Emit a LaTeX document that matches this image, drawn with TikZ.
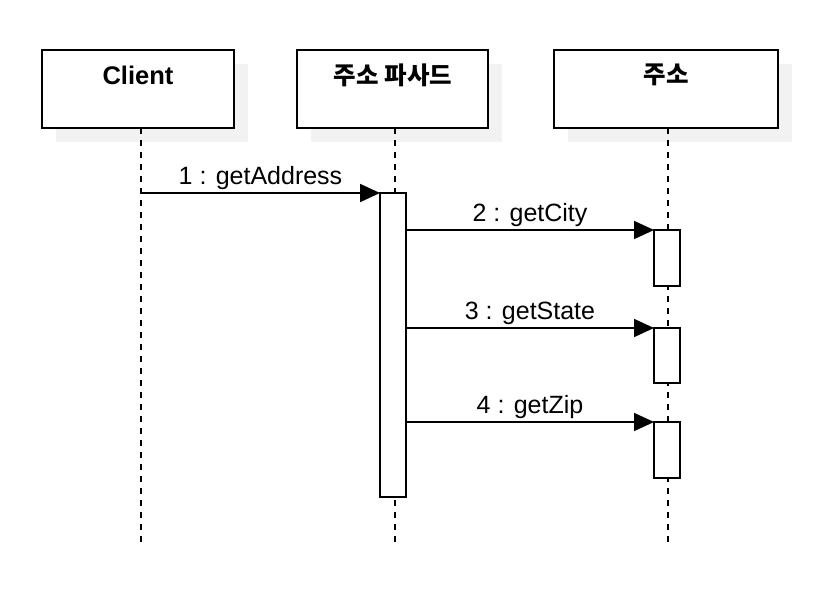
\documentclass[tikz,border=0pt]{standalone}
\usepackage{fontspec}
\setmainfont{Liberation Sans}
\newfontfamily\krfont{Noto Sans CJK KR}
\usetikzlibrary{arrows.meta}
\begin{document}
\begin{tikzpicture}[x=1pt,y=-1pt,
  objbox/.style={draw=black,line width=1.8pt,fill=white},
  shadowbox/.style={fill=black!5,draw=none},
  lifeline/.style={line width=1.7pt,dash pattern=on 6pt off 6pt},
  actbar/.style={draw=black,line width=1.8pt,fill=white},
  msg/.style={line width=1.8pt,-{Triangle[length=20pt,width=18pt]}},
  msglabel/.style={above=1pt,font=\fontsize{25}{29}\selectfont,inner sep=1pt},
  objlabel/.style={font=\fontsize{25.5}{29}\selectfont\bfseries,anchor=center}]
\useasboundingbox (0,0) rectangle (836,596);
% shadows
\fill[shadowbox] (56,64) rectangle (248,142);
\fill[shadowbox] (311,64) rectangle (502,142);
\fill[shadowbox] (568,64) rectangle (792,142);
% lifelines
\coordinate (c1) at (141,128);
\coordinate (c1e) at (141,545);
\coordinate (c2) at (395,128);
\coordinate (c2e) at (395,545);
\coordinate (c3) at (668,128);
\coordinate (c3e) at (668,545);
\draw[lifeline] (c1) -- (c1e);
\draw[lifeline] (c2) -- (c2e);
\draw[lifeline] (c3) -- (c3e);
% object boxes
\draw[objbox] (42,50) rectangle (234,128);
\draw[objbox] (297,50) rectangle (488,128);
\draw[objbox] (554,50) rectangle (778,128);
\node[objlabel] (client) at (138,75) {Client};
\node[objlabel,font=\fontsize{24.5}{29}\selectfont] (facade) at (393,75) {\krfont\bfseries 주소 파사드};
\node[objlabel,font=\fontsize{24.5}{29}\selectfont] (addr) at (666,75) {\krfont\bfseries 주소};
% activation bars
\node[actbar,minimum width=26pt,minimum height=304pt,inner sep=0pt,outer sep=0pt] (a0) at (393,345) {};
\node[actbar,minimum width=26pt,minimum height=56pt,inner sep=0pt,outer sep=0pt] (a1) at (667,258) {};
\node[actbar,minimum width=26pt,minimum height=55pt,inner sep=0pt,outer sep=0pt] (a2) at (667,355.5) {};
\node[actbar,minimum width=26pt,minimum height=56pt,inner sep=0pt,outer sep=0pt] (a3) at (667,450) {};
% messages
\coordinate (m1s) at (141,193);
\draw[msg] (m1s) -- (a0.north west) node[midway,msglabel] {1 : getAddress};
\draw[msg] (a0.east |- a1.north) -- (a1.north west) node[midway,msglabel] {2 : getCity};
\draw[msg] (a0.east |- a2.north) -- (a2.north west) node[midway,msglabel] {3 : getState};
\draw[msg] (a0.east |- a3.north) -- (a3.north west) node[midway,msglabel] {4 : getZip};
\end{tikzpicture}
\end{document}
